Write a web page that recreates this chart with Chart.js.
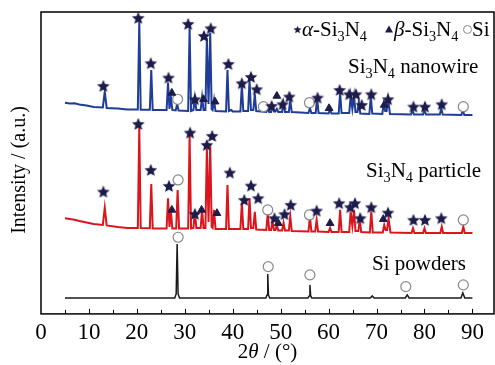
<!DOCTYPE html>
<html>
<head>
<meta charset="utf-8">
<script src="https://cdn.jsdelivr.net/npm/chart.js@4.4.0/dist/chart.umd.min.js"></script>
<style>
html,body{margin:0;padding:0;background:#fff;}
#box{width:495px;height:365px;}
</style>
</head>
<body>
<div id="box"><canvas id="xrd"></canvas></div>
<script>
// 2theta / intensity (a.u., 0 = x axis, 302 = top of frame)
var nanowireTheta = [5.0,6.0,7.0,8.0,9.5,11.0,12.9,13.3,13.7,16.0,18.0,20.2,20.5,20.8,22.7,23.0,23.3,25.0,26.2,26.5,26.8,27.1,27.4,28.1,28.4,28.7,30.7,31.0,31.3,31.8,32.1,32.4,33.3,33.6,33.9,34.3,34.6,34.95,35.3,35.6,35.8,36.1,36.4,38.6,38.9,39.2,39.7,40.0,41.6,41.9,42.2,43.2,43.5,43.8,44.3,44.6,44.9,47.0,47.3,47.6,48.0,48.3,48.6,48.9,49.2,49.5,50.3,50.6,50.9,51.7,52.0,52.3,55.8,56.1,56.4,57.3,57.6,57.9,60.0,60.3,60.6,62.1,62.4,62.7,64.3,64.6,64.95,65.3,65.6,66.0,66.3,66.6,68.5,68.8,69.1,71.2,71.5,71.8,72.1,72.4,72.8,77.2,77.5,77.8,79.7,80.0,80.3,83.2,83.5,83.8,87.7,88.0,88.3,90.0];
var nanowireI = [211.3,210.5,210.8,209.5,208.5,207,206.5,222.3,206,205.5,204.5,204.5,293,204.3,204.2,244,204,204,204,231.3,205,217,204,203.5,210,203.5,203,287.3,203,204,216,204,204,217,204,204,276,210,281.3,205,204,214,203,202.5,244,203,204,202.5,202.5,229,203,203,234,204,204,220,203,202,206,202,202,208,202.5,202.5,205,202,202,211,202,202,214,202,201,206,201,201,215.7,201,200.5,205,200.5,200.5,221.3,201,201,218,205,218,202,202,212.3,200.5,200,217.3,200.5,200,210,203,203,215,200,199.5,204,199.5,199.5,204,199.5,199.5,206,199.5,199,204,199,199];

var particleTheta = [5.0,6.0,7.0,8.0,9.5,11.0,12.9,13.3,13.7,16.0,18.0,20.2,20.5,20.8,22.7,23.0,23.3,26.2,26.5,26.8,27.1,27.4,28.2,28.5,28.8,30.7,31.0,31.3,31.8,32.1,32.4,33.3,33.6,33.9,34.3,34.6,34.95,35.3,35.6,35.8,36.1,36.4,38.6,38.9,39.2,41.6,41.9,42.2,43.2,43.5,43.8,44.3,44.6,44.9,47.0,47.3,47.6,48.0,48.3,48.6,48.9,49.2,49.5,50.3,50.6,50.9,51.7,52.0,52.3,55.8,56.1,56.4,57.2,57.5,57.8,60.0,60.3,60.6,62.1,62.4,62.7,64.3,64.6,64.95,65.3,65.6,66.2,66.5,66.8,68.6,68.9,69.2,71.3,71.6,71.9,72.2,72.5,72.9,77.3,77.6,77.9,79.7,80.0,80.3,83.3,83.6,83.9,87.8,88.1,88.4,90.0];
var particleI = [95.7,95,94.2,93,91.5,90,89,106.3,88.5,87,86,86,187,86,85.8,130,85.5,85.5,115.7,87,102.3,85.5,85.5,124,85.5,85.5,179,85.5,86,102.3,86,86,104,86,86,165,92,170,87,86,104,85,85,129,85,85,110.7,85,85,115.7,86,86,102,84.5,84,100.7,84,84,92.3,84,84,89,83.5,83.5,91,83.5,83.5,97.3,83,82.5,97.3,82.5,82.5,94,82.5,82,86,82,82,104,82,82,102.3,88,104,83,83,94,82,81.5,102.3,81.5,81.5,89,84,84,95.7,81.5,81,85.7,81,81,85.7,81,81,87.3,81,81,87.3,81,81];

var siTheta = [5.0,27.9,28.2,28.4,28.6,28.9,46.9,47.15,47.3,47.45,47.7,55.7,55.95,56.1,56.25,56.5,68.7,69.1,69.5,76.0,76.4,76.8,87.6,88.0,88.4,90.0];
var siI = [16,16,20,70,20,16,16,19,40,19,16,16,18,29,18,16,16,18,16,16,19,16,16,21,16,16];

// phase marks: alpha stars, beta triangles, Si circles
var alphaTheta = [13.0,20.3,22.9,26.6,30.7,32.1,34.0,35.4,39.1,41.9,43.8,45.0,48.1,50.4,51.8,57.7,62.3,64.3,65.7,66.9,68.9,72.4,77.7,80.1,83.6,
                  13.0,20.3,22.9,26.7,31.1,32.1,34.6,35.7,39.4,42.4,43.8,45.3,48.7,50.8,52.1,57.5,62.2,64.5,65.5,66.6,68.9,72.4,77.7,80.1,83.5];
var alphaI = [228,296,250.7,236.3,290,214.7,278,285.7,250,230.7,237,224.7,208,209.7,217.3,216.3,224,219.7,219.7,209,219.7,214.7,207.3,207.3,209.7,
              122.3,190,144,128,181.3,100,169,178,141.3,114,128.3,115.7,95.7,99.7,109,103.3,110.7,106.7,110.7,95.7,106.7,101.3,94,94,95.7];
var betaTheta = [27.3,33.9,36.3,49.2,60.1,71.6, 27.3,33.5,36.7,49.5,60.3,71.4];
var betaI = [221,214.7,212.3,218,205.7,209, 104,104,100.7,90.7,90.7,94.7];
var siMarkTheta = [28.5,46.4,56.0,88.1, 28.6,47.3,56.0,88.1, 28.6,47.4,56.1,76.1,88.1];
var siMarkI = [214.7,207.3,211.3,207.3, 134,104,99,94, 76.7,47.3,39,27.3,29];

var xTicks = [0,10,20,30,40,50,60,70,80,90];

function pts(xs, ys){
  return xs.map(function(x,i){ return {x:x, y:ys[i]}; });
}

// filled five point star used as marker
function makeStar(size, color){
  var c = document.createElement('canvas');
  c.width = size; c.height = size;
  var g = c.getContext('2d');
  var r = size/2 - 1.5, ri = r*0.45, cx = size/2, cy = size/2 + 0.5;
  g.shadowColor = 'rgba(90,90,150,0.55)';
  g.shadowBlur = 1.5;
  g.beginPath();
  for(var i=0;i<10;i++){
    var a = -Math.PI/2 + i*Math.PI/5;
    var rr = (i%2==0) ? r : ri;
    g.lineTo(cx + rr*Math.cos(a), cy + rr*Math.sin(a));
  }
  g.closePath();
  g.fillStyle = color;
  g.fill();
  return c;
}
var starImg = makeStar(16, '#1d1b48');
var MARK = '#1d1b48';
var SERIF = '"Liberation Serif", "Times New Roman", serif';

// draw text with Si3N4 style subscripts
function rich(ctx, parts, x, y, size){
  parts.forEach(function(p){
    var s = p.sub ? size*0.68 : size;
    ctx.font = (p.it ? 'italic ' : '') + s + 'px ' + SERIF;
    ctx.fillText(p.t, x, y + (p.sub ? size*0.22 : 0));
    x += ctx.measureText(p.t).width;
  });
  return x;
}
function sin(){ return [{t:'Si'},{t:'3',sub:1},{t:'N'},{t:'4',sub:1}]; }

var decor = {
  id: 'decor',
  afterDraw: function(chart){
    var ctx = chart.ctx, a = chart.chartArea, xs = chart.scales.x;
    ctx.save();
    ctx.strokeStyle = '#000';
    ctx.lineWidth = 1.5;
    ctx.strokeRect(a.left, a.top, a.right - a.left, a.bottom - a.top);
    // inward ticks
    ctx.lineWidth = 1;
    for(var v=5; v<=90; v+=5){
      var px = Math.round(xs.getPixelForValue(v)) + 0.5;
      ctx.beginPath();
      ctx.moveTo(px, a.bottom);
      ctx.lineTo(px, a.bottom - (v%10==0 ? 5 : 4));
      ctx.stroke();
    }
    ctx.fillStyle = '#000';
    ctx.textBaseline = 'alphabetic';
    ctx.textAlign = 'left';
    // curve labels
    rich(ctx, sin().concat([{t:' nanowire'}]), 348, 73, 21);
    rich(ctx, sin().concat([{t:' particle'}]), 366, 177, 21);
    rich(ctx, [{t:'Si powders'}], 372, 270, 21);
    // legend
    ctx.drawImage(starImg, 297.5-5, 29.5-5, 10, 10);
    rich(ctx, [{t:'\u03b1',it:1},{t:'-'}].concat(sin()), 302, 36, 21);
    ctx.fillStyle = MARK;
    ctx.beginPath();
    ctx.moveTo(389, 25.5); ctx.lineTo(393, 32.5); ctx.lineTo(385, 32.5);
    ctx.closePath(); ctx.fill();
    ctx.fillStyle = '#000';
    rich(ctx, [{t:'\u03b2',it:1},{t:'-'}].concat(sin()), 394, 36, 21);
    ctx.strokeStyle = '#888';
    ctx.lineWidth = 1;
    ctx.beginPath(); ctx.arc(467.5, 29.5, 4, 0, Math.PI*2); ctx.stroke();
    rich(ctx, [{t:'Si'}], 472, 36, 21);
    // axis titles
    var parts = [{t:'2'},{t:'\u03b8',it:1},{t:' / (\u00b0)'}], w = 0;
    parts.forEach(function(p){ ctx.font = (p.it?'italic ':'') + '21px ' + SERIF; w += ctx.measureText(p.t).width; });
    rich(ctx, parts, (a.left + a.right)/2 - w/2, 358, 21);
    ctx.translate(20, 170);
    ctx.rotate(-Math.PI/2);
    ctx.textAlign = 'center';
    ctx.textBaseline = 'middle';
    ctx.font = '20px ' + SERIF;
    ctx.fillText('Intensity / (a.u.)', 0, 0);
    ctx.restore();
  }
};

new Chart(document.getElementById('xrd'), {
  type: 'line',
  data: {
    datasets: [
      {label:'Si3N4 nanowire', data: pts(nanowireTheta, nanowireI), borderColor:'#1e3c98', borderWidth:2, pointRadius:0, tension:0, order:3},
      {label:'Si3N4 particle', data: pts(particleTheta, particleI), borderColor:'#dc141c', borderWidth:2, pointRadius:0, tension:0, order:3},
      {label:'Si powders', data: pts(siTheta, siI), borderColor:'#1a1a1a', borderWidth:1.5, pointRadius:0, tension:0, order:3},
      {label:'alpha', data: pts(alphaTheta, alphaI), showLine:false, pointStyle: starImg, pointRadius:8, order:1},
      {label:'beta', data: pts(betaTheta, betaI), showLine:false, pointStyle:'triangle', pointRadius:4.5, backgroundColor:MARK, borderColor:MARK, borderWidth:1, order:1},
      {label:'Si', data: pts(siMarkTheta, siMarkI), showLine:false, pointStyle:'circle', pointRadius:5, backgroundColor:'#fff', borderColor:'#888', borderWidth:1.2, order:1}
    ]
  },
  options: {
    responsive: true,
    maintainAspectRatio: false,
    animation: false,
    layout: {autoPadding: false, padding: {left:41, right:1, top:12, bottom:13.5}},
    plugins: {legend:{display:false}, tooltip:{enabled:false}},
    scales: {
      x: {
        type: 'linear', min: 0, max: 94.5,
        grid: {display:false, drawTicks:false},
        border: {display:false},
        afterBuildTicks: function(s){ s.ticks = xTicks.map(function(v){ return {value:v}; }); },
        afterFit: function(s){ s.paddingLeft = 0; s.paddingRight = 0; },
        ticks: {color:'#000', padding:5, maxRotation:0, autoSkip:false, font:{family:'"Liberation Serif"', size:23}}
      },
      y: {display:false, min:0, max:302}
    }
  },
  plugins: [decor]
});
</script>
</body>
</html>
